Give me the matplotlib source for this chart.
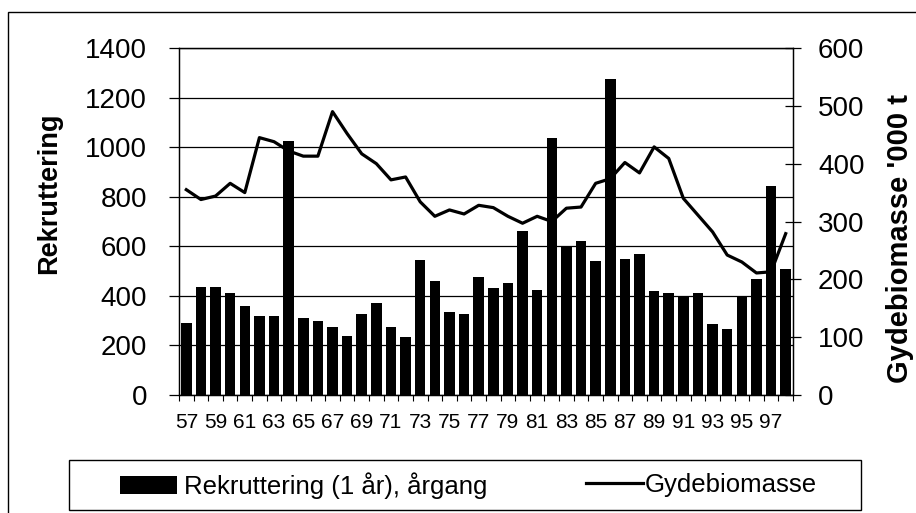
import numpy as np
import matplotlib
matplotlib.use("Agg")
import matplotlib.pyplot as plt
from matplotlib.patches import Rectangle, Patch
from matplotlib.lines import Line2D

plt.rcParams['font.family'] = ['Liberation Sans', 'DejaVu Sans']

# Data
aar = np.arange(57, 99)          # årgang 1957-1998
rekruttering = [290, 435, 435, 410, 360, 320, 320, 1025, 310, 300,
                275, 240, 325, 370, 275, 235, 545, 460, 335, 325,
                475, 430, 450, 660, 425, 1035, 600, 620, 540, 1275,
                550, 570, 420, 410, 400, 410, 285, 265, 400, 470,
                845, 510]
gydebiomasse = [355, 338, 344, 366, 350, 445, 438, 422, 413, 413,
                490, 452, 417, 400, 372, 377, 334, 309, 320, 313,
                328, 324, 309, 297, 309, 300, 323, 325, 366, 374,
                402, 384, 429, 409, 340, 311, 282, 242, 230, 211,
                213, 279]
tick_labels = [str(a) for a in aar[::2]]

fig = plt.figure(figsize=(9.16, 5.13), dpi=100)
ax = fig.add_axes([179/916, 1 - 395/513, 614/916, 347/513])
ax2 = ax.twinx()

x = np.arange(len(aar))
ax.bar(x, rekruttering, width=0.72, color='black', zorder=3)
ax2.plot(x, gydebiomasse, color='black', lw=2.3, zorder=4)

ax.set_ylim(0, 1400)
ax.set_yticks(range(0, 1401, 200))
ax2.set_ylim(0, 600)
ax2.set_yticks(range(0, 601, 100))
ax.set_xlim(-0.5, len(aar) - 0.5)
ax.grid(axis='y', color='black', lw=0.9, zorder=0)
ax.set_axisbelow(True)

# x ticks: labels every second year, short marks between bars
ax.set_xticks(x[::2])
ax.set_xticklabels(tick_labels)
ax.set_xticks(np.arange(-0.5, len(aar), 1), minor=True)
ax.tick_params(axis='x', which='major', length=0, pad=13, labelsize=15)
ax.tick_params(axis='x', which='minor', length=4, direction='out', width=0.8)
ax.tick_params(axis='y', length=7, width=0.9, pad=16, labelsize=20)
ax2.tick_params(axis='y', direction='inout', length=12, width=0.9, pad=12, labelsize=20)

for a in (ax, ax2):
    for s in a.spines.values():
        s.set_linewidth(0.9)

ax.set_ylabel('Rekruttering', fontsize=19.5, fontweight='bold')
ax.yaxis.set_label_coords(-0.19, 0.58)
ax2.set_ylabel("Gydebiomasse '000 t", fontsize=21, fontweight='bold', rotation=90)
ax2.yaxis.set_label_coords(1.151, 0.45)

# outer frame
fig.patches.append(Rectangle((8/916, -0.05), 1.0, 1 - 12/513 + 0.05, transform=fig.transFigure,
                             fill=False, edgecolor='black', lw=1.0))
# legend box
fig.patches.append(Rectangle((69/916, 1 - 510/513), 792/916, 50/513, transform=fig.transFigure,
                             fill=False, edgecolor='black', lw=1.0))

fig.legend(handles=[Patch(facecolor='black')], labels=['Rekruttering (1 år), årgang'],
           loc='center left', bbox_to_anchor=(120/916, 1 - 486/513), frameon=False,
           borderpad=0, borderaxespad=0, handlelength=2.2, handleheight=0.7,
           handletextpad=0.3, fontsize=18.5)
fig.legend(handles=[Line2D([], [], color='black', lw=2.3)], labels=['Gydebiomasse'],
           loc='center left', bbox_to_anchor=(586/916, 1 - 485/513), frameon=False,
           borderpad=0, borderaxespad=0, handlelength=2.2,
           handletextpad=0.1, fontsize=18.5)

fig.savefig('out.png', dpi=100)
